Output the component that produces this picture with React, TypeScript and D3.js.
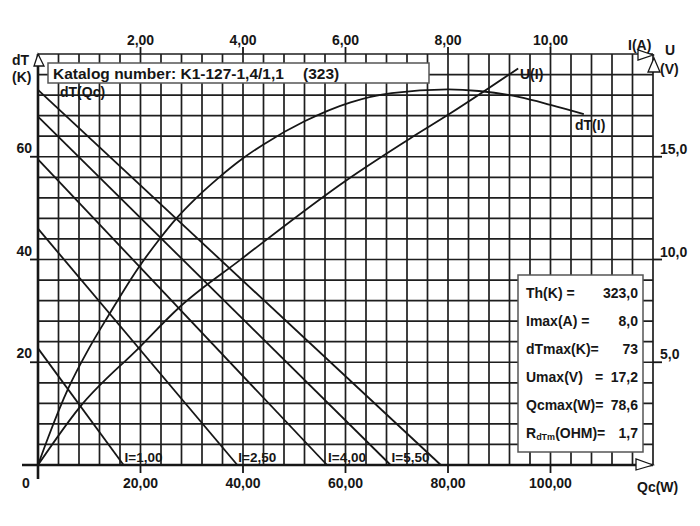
// @ts-nocheck
import React from 'react'
import * as d3 from 'd3'

// dT(Qc) load lines, one per current
const loadCurrents = [1.0, 2.5, 4.0, 5.5, 8.0]
const loadDt0 = [22.7, 46.0, 59.5, 67.8, 73.0]
const loadQc0 = [16.7, 38.9, 56.4, 68.8, 78.6]
const loadLabels = ['I=1,00', 'I=2,50', 'I=4,00', 'I=5,50', '']

// dT(I) curve
const dtI = [0, 0.2, 0.59, 1.0, 1.37, 1.96, 2.38, 2.71, 3.1, 3.5, 4.0, 4.4, 5.2, 6.1, 6.9, 8.0, 8.6, 9.4, 10.0, 10.65]
const dtVal = [0, 5.4, 14.9, 22.8, 29.0, 38.4, 44.1, 48.1, 52.1, 55.7, 59.7, 62.4, 66.9, 70.6, 72.4, 73.1, 72.8, 71.6, 70.1, 68.3]

// U(I) curve
const uI = [0, 0.82, 1.96, 2.77, 3.94, 6.02, 7.26, 8.04, 9.37]
const uVal = [0, 2.83, 5.68, 7.7, 9.97, 13.86, 15.89, 17.1, 19.3]

const qcTicks = [20, 40, 60, 80, 100]
const iTicks = [2, 4, 6, 8, 10]
const dtTicks = [20, 40, 60]
const uTicks = [5, 10, 15]

const infoLabels = ['Th(K) =', 'Imax(A) =', 'dTmax(K)=', 'Umax(V)', 'Qcmax(W)=', 'R']
const infoValues = ['323,0', '8,0', '73', '17,2', '78,6', '1,7']

const W = 700
const H = 526
const L = 38
const R = 653
const T = 54
const B = 465
const ink = '#161616'
const font = 'Liberation Sans, Arial, sans-serif'

const comma = (f) => (v) => d3.format(f)(v).replace('.', ',')

const App = () => {
  const x = d3.scaleLinear().domain([0, 120]).range([L, R])
  const xI = d3.scaleLinear().domain([0, 12]).range([L, R])
  const y = d3.scaleLinear().domain([0, 80]).range([B, T])
  const yU = d3.scaleLinear().domain([0, 20]).range([B, T])

  const dtLine = d3
    .line()
    .x((d) => xI(d[0]))
    .y((d) => y(d[1]))
    .curve(d3.curveMonotoneX)
  const uLine = d3
    .line()
    .x((d) => xI(d[0]))
    .y((d) => yU(d[1]))
    .curve(d3.curveMonotoneX)

  const dtData = dtI.map((v, i) => [v, dtVal[i]])
  const uData = uI.map((v, i) => [v, uVal[i]])

  const gridX = d3.range(0, 121, 4)
  const gridY = d3.range(0, 81, 4)

  const txt = { fontFamily: font, fontWeight: 'bold', fill: ink }

  return (
    <svg width={W} height={H} style={{ position: 'absolute', left: 0, top: 0, background: '#fff' }}>
      <rect width={W} height={H} fill="#fff" />

      {/* grid */}
      <g stroke="#1e1e1e" strokeWidth={1.7}>
        {gridX.map((v) => (
          <line key={'gx' + v} x1={x(v)} x2={x(v)} y1={T} y2={B} />
        ))}
        {gridY.map((v) => (
          <line key={'gy' + v} x1={L} x2={R} y1={y(v)} y2={y(v)} />
        ))}
      </g>

      {/* axes */}
      <g stroke={ink} strokeWidth={2.6}>
        <line x1={22} x2={R} y1={B} y2={B} />
        <line x1={L} x2={L} y1={T} y2={479} />
      </g>
      <g stroke={ink} strokeWidth={1.8}>
        {qcTicks.map((v) => (
          <line key={'tq' + v} x1={x(v)} x2={x(v)} y1={B} y2={B + 8} />
        ))}
        {iTicks.map((v) => (
          <line key={'ti' + v} x1={xI(v)} x2={xI(v)} y1={T - 7} y2={T} />
        ))}
        {dtTicks.map((v) => (
          <line key={'td' + v} x1={L - 8} x2={L} y1={y(v)} y2={y(v)} />
        ))}
        {uTicks.map((v) => (
          <line key={'tu' + v} x1={R} x2={R + 9} y1={yU(v)} y2={yU(v)} />
        ))}
      </g>

      {/* tick labels */}
      <g {...txt} fontSize={14}>
        {qcTicks.map((v) => (
          <text key={'lq' + v} x={x(v)} y={488} textAnchor="middle">
            {comma('.2f')(v)}
          </text>
        ))}
        {iTicks.map((v) => (
          <text key={'li' + v} x={xI(v)} y={45} textAnchor="middle">
            {comma('.2f')(v)}
          </text>
        ))}
        {dtTicks.map((v) => (
          <text key={'ld' + v} x={32} y={y(v) - 4} textAnchor="end">
            {v}
          </text>
        ))}
        {uTicks.map((v) => (
          <text key={'lu' + v} x={660} y={yU(v) - 3}>
            {comma('.1f')(v)}
          </text>
        ))}
        <text x={22} y={488}>0</text>
        <text x={12} y={65}>dT</text>
        <text x={12} y={82}>(K)</text>
        <text x={628} y={50}>I(A)</text>
        <text x={665} y={55}>U</text>
        <text x={660} y={74}>(V)</text>
        <text x={637} y={492}>Qc(W)</text>
      </g>

      {/* arrows */}
      <g fill="#fff" stroke={ink} strokeWidth={1.3}>
        <path d={`M${L},${T} L${L + 6},${T + 12} L${L - 4},${T + 12} Z`} />
        <path d={`M${R},${B} L${R - 17},${B - 6} L${R - 17},${B + 5} Z`} />
        <path d={`M${R},${T + 1} L${R - 15},${T - 4} L${R - 15},${T + 6} Z`} />
        <path d={`M${R + 1},${T + 4} L${R + 7},${T + 18} L${R - 5},${T + 18} Z`} />
      </g>

      {/* dT(Qc) lines */}
      <g stroke={ink} strokeWidth={1.8}>
        {loadCurrents.map((c, i) => (
          <line key={'ld' + c} x1={x(0)} y1={y(loadDt0[i])} x2={x(loadQc0[i])} y2={y(0)} />
        ))}
      </g>
      <g {...txt} fontSize={13.5}>
        {loadCurrents.map((c, i) => (
          <text key={'ll' + c} x={x(loadQc0[i]) + 1} y={462}>
            {loadLabels[i]}
          </text>
        ))}
      </g>

      {/* dT(I) and U(I) */}
      <path d={dtLine(dtData)} fill="none" stroke={ink} strokeWidth={1.8} />
      <path d={uLine(uData)} fill="none" stroke={ink} strokeWidth={1.8} />
      <g {...txt} fontSize={14}>
        <text x={520} y={79}>U(I)</text>
        <text x={575} y={130}>dT(I)</text>
        <text x={60} y={97}>dT(Qc)</text>
      </g>

      {/* title box */}
      <rect x={48} y={63} width={381} height={20} fill="#fff" stroke="#555" strokeWidth={1.5} />
      <g {...txt} fontSize={15.5}>
        <text x={53} y={79}>Katalog number: K1-127-1,4/1,1</text>
        <text x={303} y={79}>(323)</text>
      </g>

      {/* info box */}
      <rect x={518} y={275} width={125} height={177} fill="#fff" stroke="#555" strokeWidth={1.5} />
      <g {...txt} fontSize={14}>
        {infoLabels.map((lab, i) => (
          <text key={'il' + i} x={526} y={298 + i * 28}>
            {lab === 'R' ? (
              <>
                R<tspan fontSize={9} dy={2}>dTm</tspan>
                <tspan dy={-2}>(OHM)=</tspan>
              </>
            ) : (
              lab
            )}
          </text>
        ))}
        <text x={595} y={298 + 3 * 28}>=</text>
        {infoValues.map((v, i) => (
          <text key={'iv' + i} x={638} y={298 + i * 28} textAnchor="end">
            {v}
          </text>
        ))}
      </g>
    </svg>
  )
}

export default App
